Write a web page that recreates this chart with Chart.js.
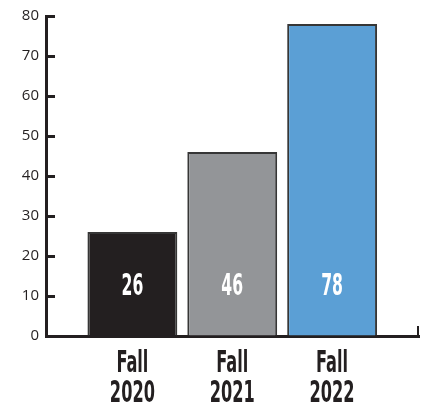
<!DOCTYPE html>
<html><head><meta charset="utf-8">
<script src="https://cdn.jsdelivr.net/npm/chart.js@4"></script>
<style>html,body{margin:0;padding:0;background:#fff}canvas{display:block}</style>
</head><body><canvas id="c" width="428" height="402"></canvas>
<script>
const terms = ['Fall', 'Fall', 'Fall'];
const years = ['2020', '2021', '2022'];
const values = [26, 46, 78];
const barColors = ['#231f20', '#939598', '#5b9fd5'];
const yMin = 0, yMax = 80, yStep = 10;
const xMin = -0.865, xMax = 2.87;

const ink = '#231f20';
const condensed = '"DejaVu Sans Condensed", "DejaVu Sans", sans-serif';
const squeeze = 0.58;

function squeezedText(ctx, text, x, y) {
  ctx.save();
  ctx.translate(x, y);
  ctx.scale(squeeze, 1);
  ctx.fillText(text, 0, 0);
  ctx.restore();
}

const textLayer = {
  id: 'textLayer',
  afterDatasetsDraw(chart) {
    const ctx = chart.ctx;
    const meta = chart.getDatasetMeta(0);
    const yS = chart.scales.y;
    const labelY = yS.getPixelForValue(Math.min(...values) / 2);
    ctx.save();
    ctx.fillStyle = '#ffffff';
    ctx.font = 'bold 30px ' + condensed;
    ctx.textAlign = 'center';
    ctx.textBaseline = 'alphabetic';
    meta.data.forEach((bar, i) => {
      squeezedText(ctx, String(values[i]), bar.x, labelY + 11);
    });
    ctx.restore();
  },
  afterDraw(chart) {
    const ctx = chart.ctx;
    const xS = chart.scales.x;
    ctx.save();
    // end tick of the x axis
    ctx.strokeStyle = ink;
    ctx.lineWidth = 2;
    ctx.beginPath();
    ctx.moveTo(xS.right - 1, xS.top + 1);
    ctx.lineTo(xS.right - 1, xS.top - 10);
    ctx.stroke();
    ctx.fillStyle = ink;
    ctx.font = 'bold 31px ' + condensed;
    ctx.textAlign = 'center';
    ctx.textBaseline = 'alphabetic';
    years.forEach((yr, i) => {
      const x = xS.getPixelForValue(i);
      squeezedText(ctx, terms[i], x, xS.top + 36);
      squeezedText(ctx, yr, x, xS.top + 66);
    });
    ctx.restore();
  }
};

new Chart(document.getElementById('c'), {
  type: 'bar',
  data: {
    datasets: [{
      data: values.map((v, i) => ({ x: i, y: v })),
      backgroundColor: barColors,
      borderColor: '#363636',
      borderWidth: 2,
      barPercentage: 0.9,
      categoryPercentage: 1.0
    }]
  },
  options: {
    responsive: false,
    devicePixelRatio: 1,
    animation: false,
    layout: { padding: { top: 16, right: 9, left: 0, bottom: 0 } },
    plugins: { legend: { display: false }, tooltip: { enabled: false } },
    scales: {
      x: {
        type: 'linear',
        min: xMin,
        max: xMax,
        offset: false,
        z: 1,
        afterBuildTicks(scale) {
          scale.ticks = years.map((_, i) => ({ value: i }));
        },
        afterFit(scale) {
          scale.height = 66;
          scale.paddingLeft = 0;
          scale.paddingRight = 0;
        },
        border: { display: true, color: ink, width: 3 },
        grid: { offset: false, display: false, drawOnChartArea: false, drawTicks: false },
        ticks: { display: false }
      },
      y: {
        min: yMin,
        max: yMax,
        afterFit(scale) {
          scale.width = 46;
          scale.paddingTop = 0;
          scale.paddingBottom = 0;
        },
        border: { display: true, color: ink, width: 3 },
        grid: {
          drawOnChartArea: false,
          drawTicks: true,
          tickLength: -9,
          tickWidth: 3,
          tickColor: ink
        },
        ticks: {
          stepSize: yStep,
          padding: 16,
          color: ink,
          font: { family: '"Open Sans", sans-serif', size: 15 }
        }
      }
    }
  },
  plugins: [textLayer]
});
</script>
</body></html>
